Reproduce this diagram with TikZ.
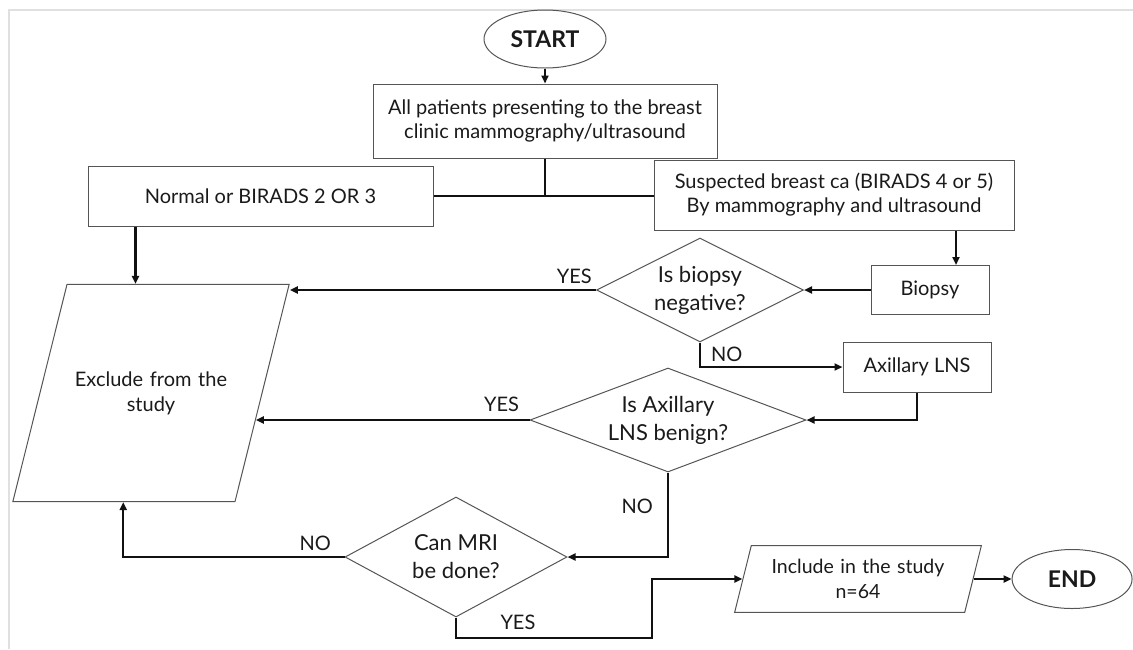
\documentclass[tikz,border=0pt]{standalone}
\usepackage{fontspec}
\setmainfont{Lato}
\usepackage{tikz}
\usetikzlibrary{shapes.geometric, arrows.meta, positioning, calc}
\definecolor{fcline}{HTML}{111111}
\definecolor{fcedge}{HTML}{555555}
\definecolor{fctext}{HTML}{1A1A1A}
\definecolor{fcframe}{HTML}{E0E0E0}

\begin{document}
\begin{tikzpicture}[
    x=1pt, y=1pt,
    font=\fontsize{20}{24}\selectfont, text=fctext,
    box/.style={draw=fcedge, line width=1pt, align=center, inner sep=2pt},
    oval/.style={ellipse, draw=fcedge, line width=1pt, inner sep=0pt, font=\fontsize{23}{26}\selectfont\bfseries},
    ask/.style={diamond, draw=fcedge, line width=1pt, align=center, inner sep=0pt, font=\fontsize{22}{28}\selectfont},
    slanted/.style={trapezium, trapezium left angle=76, trapezium right angle=104, draw=fcedge, line width=1pt, align=center},
    link/.style={draw=fcline, line width=2.4pt},
    arr/.style={link, -{Triangle[length=8pt, width=7pt]}},
    lbl/.style={font=\fontsize{20}{22}\selectfont, inner sep=1pt},
  ]
    \useasboundingbox (0,0) rectangle (1133,-649);
    \draw[fcframe, line width=2pt] (9,-649) |- (1133,-10);

    \node[oval, minimum width=122pt, minimum height=58pt] (start) at (545,-39) {START};
    \node[box, minimum width=344pt, minimum height=74pt, below=15pt of start] (patients) {All patients presenting to the breast\\clinic mammography/ultrasound};
    \node[box, minimum width=345pt, minimum height=60pt] (normal) at (260.5,-196) {Normal or BIRADS 2 OR 3};
    \node[box, minimum width=360pt, minimum height=70pt] (suspect) at (834,-195) {Suspected breast ca (BIRADS 4 or 5)\\By mammography and ultrasound};
    \node[box, minimum width=118pt, minimum height=49pt] (biopsy) at (930,-290) {Biopsy};
    \node[ask, aspect=2, minimum width=207pt, minimum height=104pt] (qbiopsy) at (700,-290) {Is biopsy\\negative?};
    \node[box, minimum width=148pt, minimum height=50pt] (axillary) at (917,-367) {Axillary LNS};
    \node[ask, aspect=2.65, minimum width=276pt, minimum height=104pt] (qlns) at (668,-420) {Is Axillary\\LNS benign?};
    \node[ask, aspect=1.85, minimum width=222pt, minimum height=120pt] (qmri) at (456,-557) {Can MRI\\be done?};
    \node[slanted, text width=162pt, inner xsep=3pt, inner ysep=87pt, font=\fontsize{20}{25}\selectfont] (exclude) at (151,-393) {Exclude from the\\study};
    \node[slanted, text width=190pt, inner xsep=11.7pt, inner ysep=13.7pt, font=\fontsize{19.5}{25}\selectfont] (include) at (858,-579) {Include in the study\\n=64};
    \node[oval, minimum width=120pt, minimum height=59pt, right=38pt of include] (stop) {END};

    % connectors
    \draw[arr] (start) -- (patients);
    \draw[link] (patients.south) -- (patients.south |- normal.east);
    \draw[link] (normal.east) -- (normal.east -| suspect.west);
    \draw[arr] ([xshift=48pt]normal.south west) -- ([xshift=48pt]normal.south west |- exclude.top left corner);
    \draw[arr] ([xshift=122pt]suspect.south) -- ([xshift=122pt]suspect.south |- biopsy.north);
    \draw[arr] (biopsy) -- (qbiopsy);
    \draw[arr] (qbiopsy.west) -- node[lbl, above=4pt, pos=0.071] {YES} (qbiopsy.west -| exclude.top right corner);
    \draw[arr] (qbiopsy.south) |- node[lbl, below right=2pt and 9pt, pos=0] {NO} (axillary.west);
    \draw[arr] (axillary.south) |- (qlns.east);
    \coordinate (exmid) at ($(exclude.top right corner)!0.624!(exclude.bottom right corner)$);
    \draw[arr] (qlns.west) -- node[lbl, above=6pt, pos=0.102] {YES} (qlns.west -| exmid);
    \draw[arr] (qlns.south) |- node[lbl, left=13pt, pos=0.2] {NO} (qmri.east);
    \draw[arr] (qmri.west) -| node[lbl, above=4pt, pos=0.066] {NO} ([xshift=111pt]exclude.bottom left corner);
    \coordinate (jog) at (652,-638);
    \draw[arr] (qmri.south) |- node[lbl, above=6pt, pos=0.658] {YES} (jog) |- (include.west);
    \draw[arr] (include.east) -- (stop.west);
  \end{tikzpicture}
\end{document}
